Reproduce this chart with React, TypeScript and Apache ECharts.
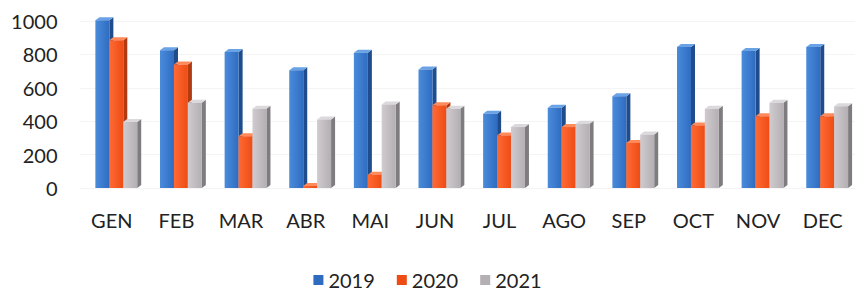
import React, { useEffect, useRef } from "react";
import * as echarts from "echarts";

const months = ["GEN", "FEB", "MAR", "ABR", "MAI", "JUN", "JUL", "AGO", "SEP", "OCT", "NOV", "DEC"];
const years = ["2019", "2020", "2021"];
const v2019 = [1005, 825, 815, 705, 810, 710, 445, 480, 550, 845, 820, 845];
const v2020 = [885, 740, 310, 12, 80, 495, 315, 365, 270, 375, 430, 430];
const v2021 = [395, 510, 475, 410, 500, 475, 365, 385, 320, 475, 510, 490];
const yTicks = [0, 200, 400, 600, 800, 1000];

const palette = [
  { front: ["#4a8bdb", "#2f6cc0"], side: "#1f4c8c", top: "#6aa2e6", offset: -9.5 / 65 },
  { front: ["#ff6a35", "#ee4c14"], side: "#b13a10", top: "#ff8a5c", offset: 4.5 / 65 },
  { front: ["#cfcbcf", "#b3afb3"], side: "#7f7c80", top: "#dcd9dc", offset: 18.5 / 65 },
];

export default function App() {
  const ref = useRef<HTMLDivElement>(null);
  useEffect(() => {
    if (!ref.current) return;
    const chart = echarts.init(ref.current, null, { renderer: "svg" });
    const seriesData = [v2019, v2020, v2021];
    const font = "Lato, 'Open Sans', sans-serif";
    chart.setOption({
      animation: false,
      grid: { left: 79.5, width: 780, top: 21, bottom: 104, containLabel: false },
      legend: {
        top: 270,
        left: "center",
        padding: 0,
        icon: "rect",
        itemWidth: 10,
        itemHeight: 10,
        itemGap: 22,
        textStyle: { fontSize: 20, lineHeight: 20, color: "#222", fontFamily: font },
        data: years.map((y, i) => ({ name: y, itemStyle: { color: palette[i].front[1] } })),
      },
      xAxis: {
        type: "category",
        data: months,
        axisLine: { show: false },
        axisTick: { show: false },
        axisLabel: { fontSize: 20, color: "#222", margin: 22, fontFamily: font },
      },
      yAxis: {
        type: "value",
        min: yTicks[0],
        max: yTicks[yTicks.length - 1],
        interval: 200,
        axisLine: { show: false },
        axisTick: { show: false },
        splitLine: { lineStyle: { color: "#f4f4f4" } },
        axisLabel: { fontSize: 20, color: "#222", margin: 22, fontFamily: font, formatter: (v: number) => String(v) },
      },
      series: years.map((y, si) => ({
        name: y,
        type: "custom",
        itemStyle: { color: palette[si].front[1] },
        encode: { x: 0, y: 1 },
        data: seriesData[si].map((v, i) => [i, v]),
        renderItem: (params: any, api: any) => {
          const idx = api.value(0);
          const val = api.value(1);
          const base = api.coord([idx, 0]);
          const top = api.coord([idx, val]);
          const band = api.size([1, 0])[0];
          const w = 14;
          const cx = base[0] + band * palette[si].offset;
          const x0 = cx - w / 2;
          const x1 = cx + w / 2;
          const dx = 4;
          const dy = 3;
          const p = palette[si];
          return {
            type: "group",
            children: [
              {
                type: "polygon",
                shape: { points: [[x1, top[1]], [x1 + dx, top[1] - dy], [x1 + dx, base[1] - dy], [x1, base[1]]] },
                style: { fill: p.side },
              },
              {
                type: "polygon",
                shape: { points: [[x0, top[1]], [x0 + dx, top[1] - dy], [x1 + dx, top[1] - dy], [x1, top[1]]] },
                style: { fill: p.top },
              },
              {
                type: "rect",
                shape: { x: x0, y: top[1], width: w, height: base[1] - top[1] },
                style: {
                  fill: new echarts.graphic.LinearGradient(0, 0, 1, 0, [
                    { offset: 0, color: p.front[0] },
                    { offset: 1, color: p.front[1] },
                  ]),
                },
              },
            ],
          };
        },
      })),
    });
    return () => chart.dispose();
  }, []);
  return (
    <div
      ref={ref}
      style={{ position: "fixed", left: 0, top: 0, width: 855, height: 292, background: "#fff" }}
    />
  );
}
